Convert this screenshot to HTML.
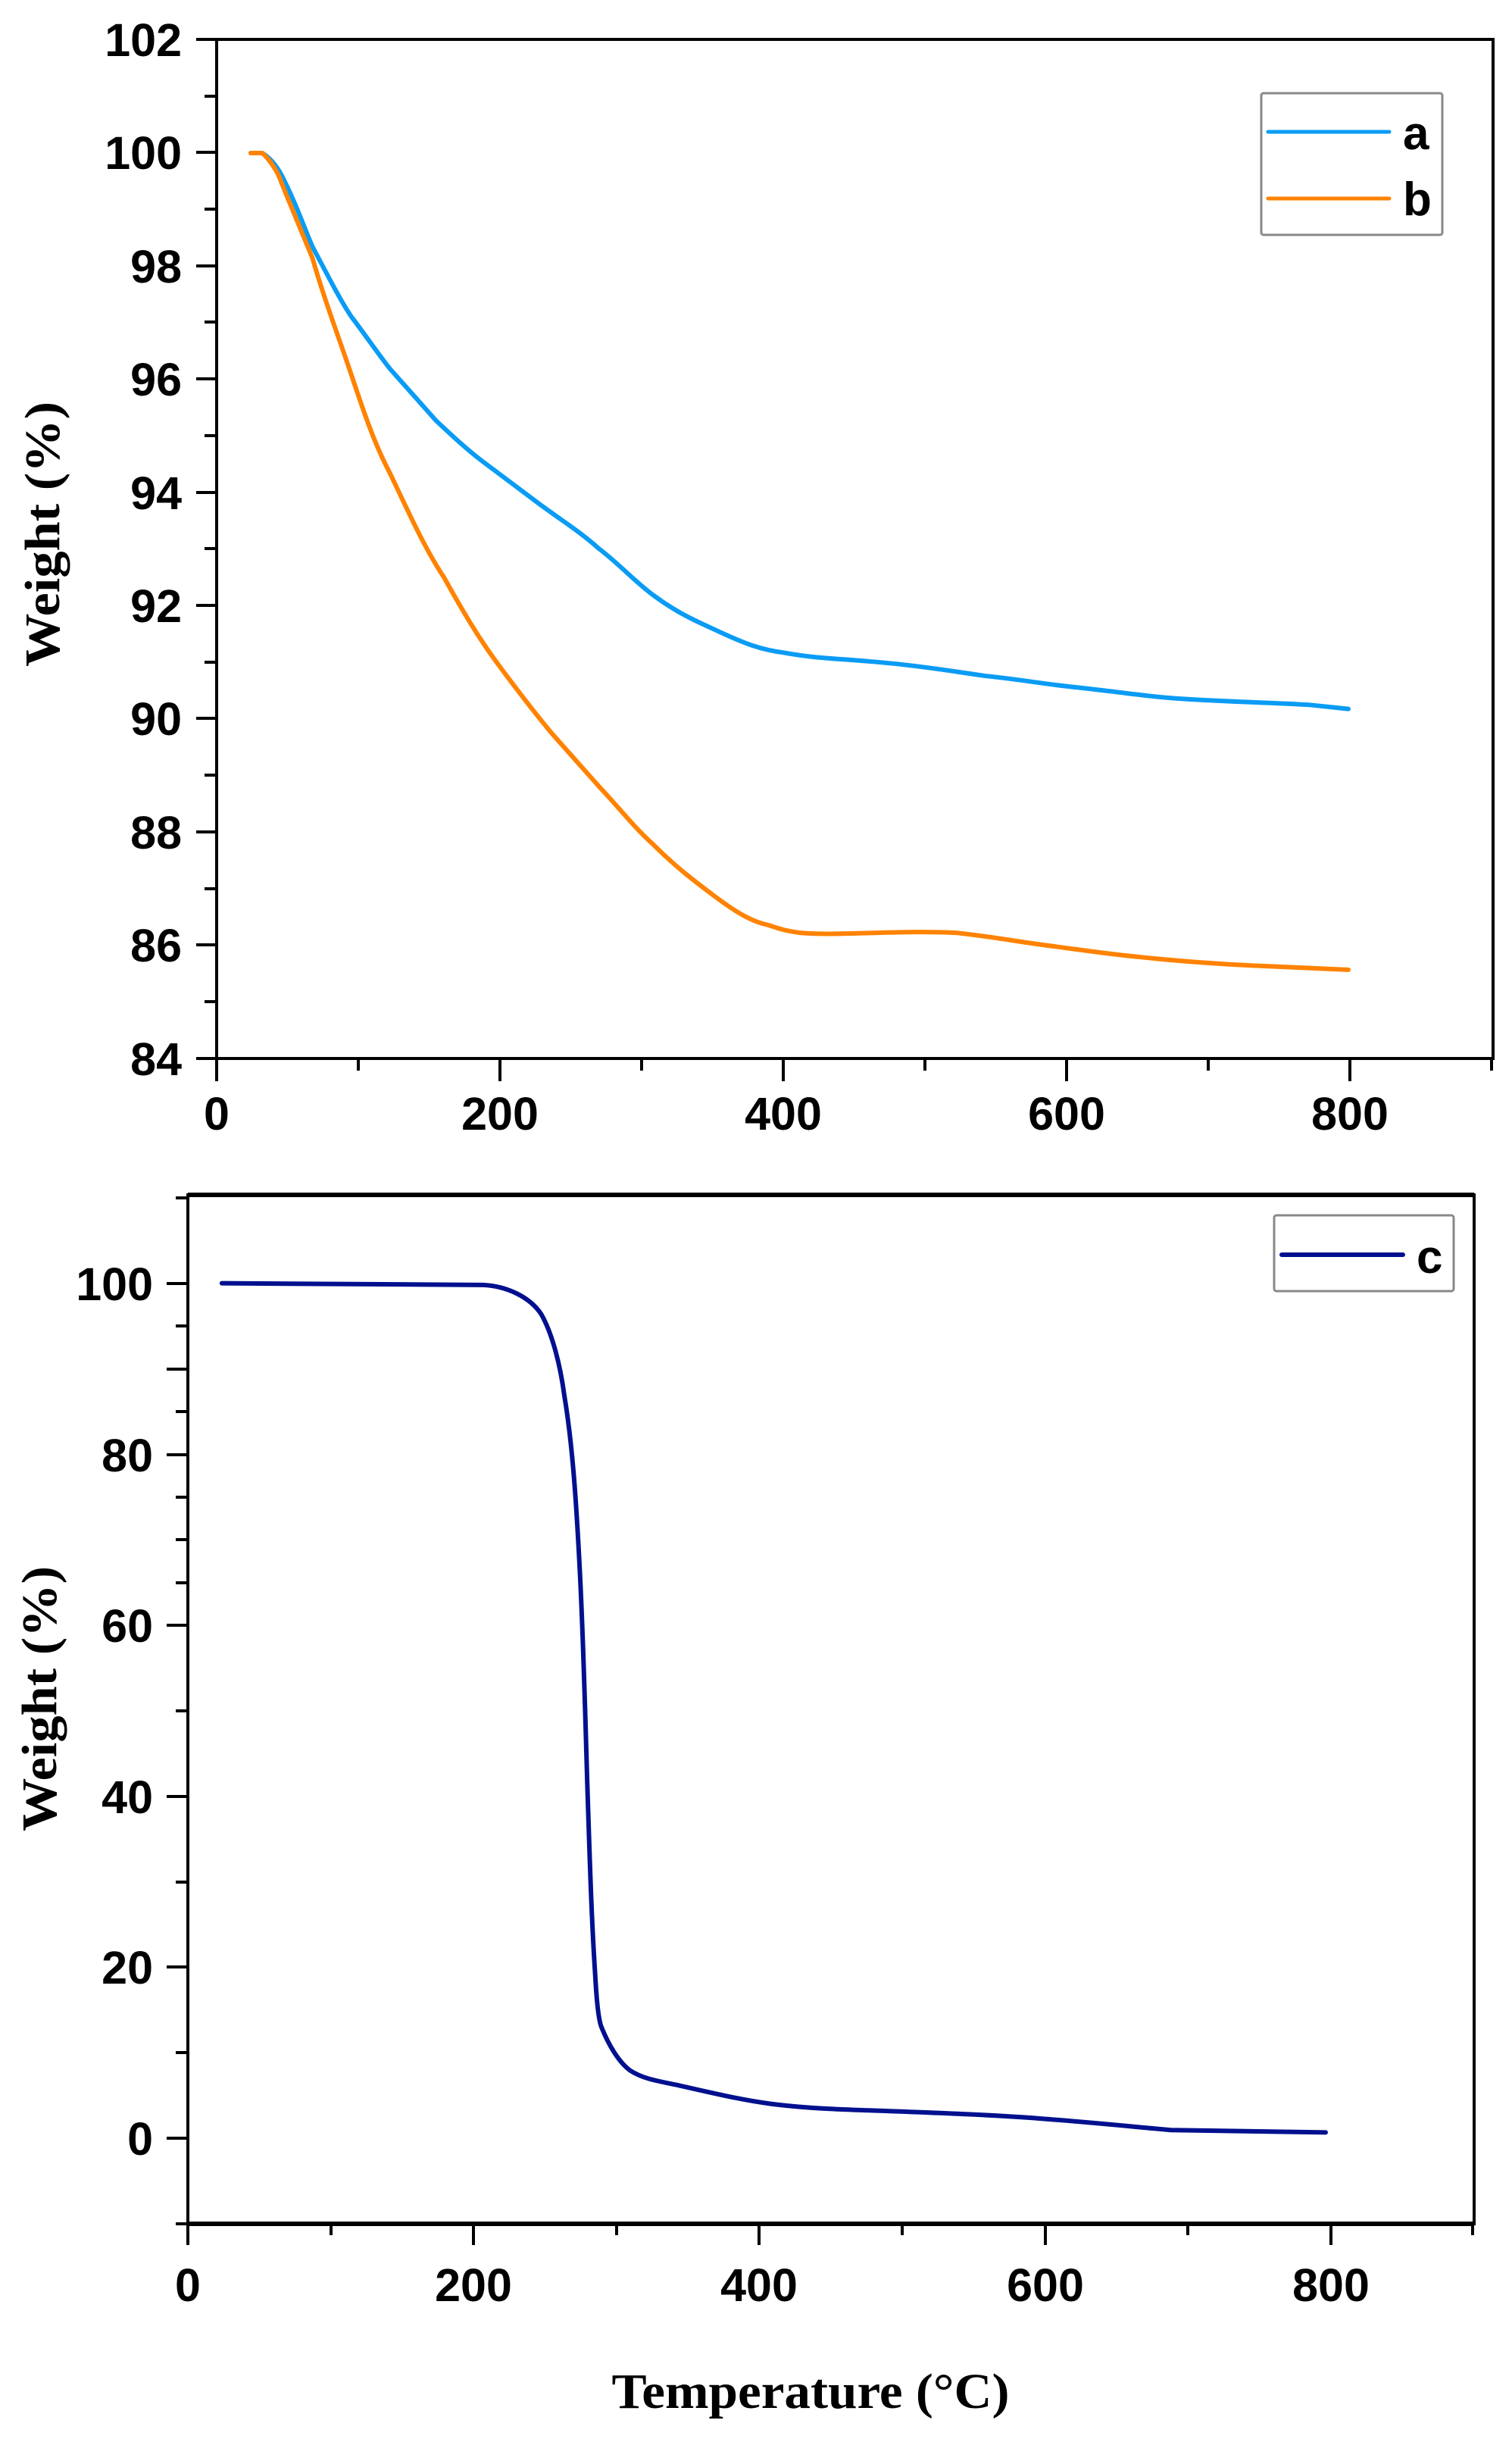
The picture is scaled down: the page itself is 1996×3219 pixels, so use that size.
<!DOCTYPE html>
<html><head><meta charset="utf-8"><style>html,body{margin:0;padding:0;background:#fff}svg{display:block}</style></head>
<body>
<svg width="1996" height="3219" viewBox="0 0 1996 3219" xmlns="http://www.w3.org/2000/svg">
<rect width="1996" height="3219" fill="#fff"/>
<g font-family="Liberation Sans, Arial, sans-serif" font-weight="bold" font-size="61" fill="#000">
<!-- TOP PLOT -->
<rect x="286" y="52" width="1685" height="1345" fill="none" stroke="#000" stroke-width="4"/>
<g stroke="#000" stroke-width="4">
<line x1="259" y1="52" x2="286" y2="52"/><line x1="270" y1="127" x2="286" y2="127"/>
<line x1="259" y1="201" x2="286" y2="201"/><line x1="270" y1="276" x2="286" y2="276"/>
<line x1="259" y1="351" x2="286" y2="351"/><line x1="270" y1="425" x2="286" y2="425"/>
<line x1="259" y1="500" x2="286" y2="500"/><line x1="270" y1="575" x2="286" y2="575"/>
<line x1="259" y1="650" x2="286" y2="650"/><line x1="270" y1="724" x2="286" y2="724"/>
<line x1="259" y1="799" x2="286" y2="799"/><line x1="270" y1="874" x2="286" y2="874"/>
<line x1="259" y1="948" x2="286" y2="948"/><line x1="270" y1="1023" x2="286" y2="1023"/>
<line x1="259" y1="1098" x2="286" y2="1098"/><line x1="270" y1="1173" x2="286" y2="1173"/>
<line x1="259" y1="1247" x2="286" y2="1247"/><line x1="270" y1="1322" x2="286" y2="1322"/>
<line x1="259" y1="1397" x2="286" y2="1397"/>
<line x1="286" y1="1397" x2="286" y2="1427"/><line x1="473" y1="1397" x2="473" y2="1413"/>
<line x1="660" y1="1397" x2="660" y2="1427"/><line x1="847" y1="1397" x2="847" y2="1413"/>
<line x1="1034" y1="1397" x2="1034" y2="1427"/><line x1="1221" y1="1397" x2="1221" y2="1413"/>
<line x1="1408" y1="1397" x2="1408" y2="1427"/><line x1="1595" y1="1397" x2="1595" y2="1413"/>
<line x1="1782" y1="1397" x2="1782" y2="1427"/><line x1="1969" y1="1397" x2="1969" y2="1413"/>
</g>
<g text-anchor="end">
<text x="240" y="74">102</text><text x="240" y="223">100</text><text x="240" y="373">98</text>
<text x="240" y="522">96</text><text x="240" y="672">94</text><text x="240" y="821">92</text>
<text x="240" y="970">90</text><text x="240" y="1120">88</text><text x="240" y="1269">86</text>
<text x="240" y="1419">84</text>
</g>
<g text-anchor="middle">
<text x="286" y="1491">0</text><text x="660" y="1491">200</text><text x="1034" y="1491">400</text>
<text x="1408" y="1491">600</text><text x="1782" y="1491">800</text>
</g>
<!-- BOTTOM PLOT -->
<rect x="248" y="1577" width="1698" height="1358" fill="none" stroke="#000" stroke-width="4"/>
<line x1="248" y1="1577" x2="1946" y2="1577" stroke="#000" stroke-width="6"/>
<line x1="248" y1="2935" x2="1946" y2="2935" stroke="#000" stroke-width="6"/>
<g stroke="#000" stroke-width="4">
<line x1="220" y1="1694" x2="248" y2="1694"/><line x1="232" y1="1750" x2="248" y2="1750"/>
<line x1="220" y1="1807" x2="248" y2="1807"/><line x1="232" y1="1863" x2="248" y2="1863"/>
<line x1="220" y1="1920" x2="248" y2="1920"/><line x1="232" y1="1976" x2="248" y2="1976"/>
<line x1="220" y1="2145" x2="248" y2="2145"/><line x1="232" y1="2089" x2="248" y2="2089"/>
<line x1="220" y1="2371" x2="248" y2="2371"/><line x1="232" y1="2258" x2="248" y2="2258"/>
<line x1="232" y1="2032" x2="248" y2="2032"/>
<line x1="220" y1="2596" x2="248" y2="2596"/><line x1="232" y1="2484" x2="248" y2="2484"/>
<line x1="220" y1="2822" x2="248" y2="2822"/><line x1="232" y1="2709" x2="248" y2="2709"/>
<line x1="232" y1="2935" x2="248" y2="2935"/><line x1="232" y1="1581" x2="248" y2="1581"/>
<line x1="248" y1="2935" x2="248" y2="2963"/><line x1="437" y1="2935" x2="437" y2="2950"/>
<line x1="625" y1="2935" x2="625" y2="2963"/><line x1="814" y1="2935" x2="814" y2="2950"/>
<line x1="1002" y1="2935" x2="1002" y2="2963"/><line x1="1191" y1="2935" x2="1191" y2="2950"/>
<line x1="1380" y1="2935" x2="1380" y2="2963"/><line x1="1568" y1="2935" x2="1568" y2="2950"/>
<line x1="1757" y1="2935" x2="1757" y2="2963"/><line x1="1944" y1="2935" x2="1944" y2="2950"/>
</g>
<g text-anchor="end">
<text x="202" y="1716">100</text><text x="202" y="1942">80</text><text x="202" y="2167">60</text>
<text x="202" y="2393">40</text><text x="202" y="2618">20</text><text x="202" y="2844">0</text>
</g>
<g text-anchor="middle">
<text x="248" y="3037">0</text><text x="625" y="3037">200</text><text x="1002" y="3037">400</text>
<text x="1380" y="3037">600</text><text x="1757" y="3037">800</text>
</g>
</g>
<!-- axis titles -->
<g font-family="Liberation Serif, Times New Roman, serif" font-weight="bold" font-size="66" fill="#000">
<text transform="translate(78,705) rotate(-90)" text-anchor="middle" textLength="350" lengthAdjust="spacingAndGlyphs">Weight (%)</text>
<text transform="translate(74,2242) rotate(-90)" text-anchor="middle" textLength="350" lengthAdjust="spacingAndGlyphs">Weight (%)</text>
<text x="1070" y="3178" text-anchor="middle" textLength="525" lengthAdjust="spacingAndGlyphs">Temperature (°C)</text>
</g>
<!-- curves top -->
<g transform="translate(280,150) scale(1.0204,0.765)" fill="none" stroke-linejoin="round" stroke-linecap="round">
<path vector-effect="non-scaling-stroke" stroke="#0a9cf5" stroke-width="6" d="M50,68 L65,68 C80,80 90,105 95,120 C110,160 120,200 130,230 C150,280 165,320 180,350 C200,385 215,415 230,440 C250,470 270,500 290,530 C310,555 330,580 350,600 C375,625 395,645 420,670 C450,700 475,720 500,750 C525,775 545,805 570,830 C600,860 625,875 650,890 C690,915 710,925 740,930 C780,940 810,940 850,945 C900,950 950,960 1000,970 C1040,975 1080,985 1120,990 C1170,997 1210,1006 1260,1010 C1320,1015 1370,1016 1420,1020 L1470,1027"/>
<path vector-effect="non-scaling-stroke" stroke="#ff8200" stroke-width="6" d="M50,68 L65,68 C75,80 85,100 90,120 C105,170 118,210 130,250 C145,320 165,390 180,450 C195,510 210,570 230,620 C255,690 275,750 300,800 C325,860 345,905 370,950 C395,995 415,1030 440,1070 C460,1100 480,1130 500,1160 C525,1195 545,1230 570,1260 C600,1300 625,1325 650,1350 C680,1380 700,1395 720,1400 C750,1415 770,1415 800,1415 C860,1414 910,1410 960,1413 C1000,1418 1040,1428 1080,1435 C1120,1442 1160,1450 1200,1455 C1250,1462 1300,1467 1350,1470 L1470,1477"/>
</g>
<!-- curve bottom -->
<g transform="translate(250,1650) scale(1.0204,0.765)" fill="none" stroke-linejoin="round" stroke-linecap="round">
<path vector-effect="non-scaling-stroke" stroke="#00108e" stroke-width="6" d="M42,57 L380,60 C410,62 440,80 455,110 C470,145 480,200 485,250 C495,330 500,420 505,550 C510,680 512,800 515,930 C518,1050 520,1150 525,1250 C527,1300 530,1330 533,1340 C542,1370 555,1400 570,1415 C585,1428 600,1432 630,1440 C680,1455 720,1468 760,1474 C810,1482 860,1483 900,1485 C980,1489 1040,1492 1100,1498 C1160,1504 1220,1512 1270,1518 L1470,1522"/>
</g>
<!-- legends -->
<g font-family="Liberation Sans, Arial, sans-serif" font-weight="bold" font-size="62" fill="#000">
<rect x="1665" y="123" width="239" height="187" fill="#fff" stroke="#888" stroke-width="3" rx="3"/>
<line x1="1674" y1="174" x2="1834" y2="174" stroke="#0a9cf5" stroke-width="5" stroke-linecap="round"/>
<line x1="1674" y1="262" x2="1834" y2="262" stroke="#ff8200" stroke-width="5" stroke-linecap="round"/>
<text x="1852" y="197">a</text><text x="1852" y="284">b</text>
<rect x="1682" y="1604" width="237" height="100" fill="#fff" stroke="#888" stroke-width="3" rx="3"/>
<line x1="1692" y1="1656" x2="1852" y2="1656" stroke="#00108e" stroke-width="6" stroke-linecap="round"/>
<text x="1870" y="1680">c</text>
</g>
</svg>
</body></html>
